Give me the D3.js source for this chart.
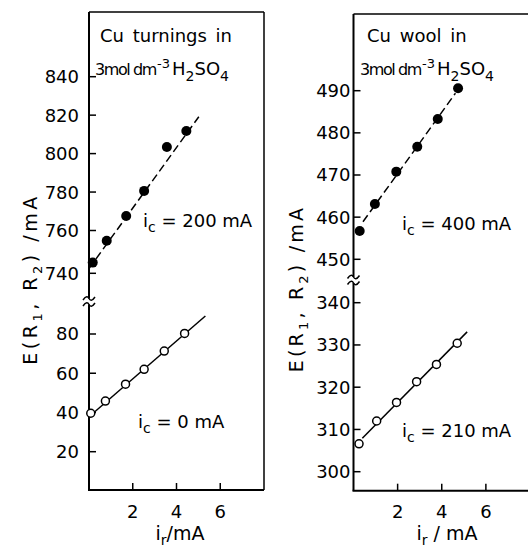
<!DOCTYPE html>
<html>
<head>
<meta charset="utf-8">
<script src="https://cdn.jsdelivr.net/npm/d3@7"></script>
<style>
  body { margin: 0; background: #fff; }
  svg { display: block; }
  text { font-family: "DejaVu Sans", sans-serif; fill: #000; }
</style>
</head>
<body>
<svg id="chart" width="528" height="549"></svg>
<script>
// ---------- data ----------
const xTicks = [2, 4, 6];

// Left panel: Cu turnings
const leftHiTicks = [740, 760, 780, 800, 820, 840];
const leftLoTicks = [20, 40, 60, 80];
const leftHiX = [0.17, 0.81, 1.70, 2.52, 3.56, 4.45];
const leftHiY = [745.0, 755.2, 767.5, 780.6, 803.4, 811.8];
const leftLoX = [0.08, 0.75, 1.67, 2.52, 3.44, 4.37];
const leftLoY = [39.6, 45.8, 54.4, 62.0, 71.3, 80.3];
const leftHiFitX = [0, 5.02];
const leftHiFitY = [742.2, 819.2];
const leftLoFitX = [0, 5.32];
const leftLoFitY = [37.8, 89.2];

// Right panel: Cu wool
const rightHiTicks = [450, 460, 470, 480, 490];
const rightLoTicks = [300, 310, 320, 330, 340];
const rightHiX = [0.28, 0.97, 1.94, 2.89, 3.82, 4.74];
const rightHiY = [456.7, 463.1, 470.8, 476.7, 483.3, 490.6];
const rightLoX = [0.25, 1.05, 1.95, 2.86, 3.76, 4.70];
const rightLoY = [306.6, 312.0, 316.4, 321.3, 325.4, 330.4];
const rightHiFitX = [0.43, 4.62];
const rightHiFitY = [458.9, 489.4];
const rightLoFitX = [0.40, 5.15];
const rightLoFitY = [307.9, 333.1];

// ---------- drawing ----------
const svg = d3.select("#chart");

function drawPanel(cfg) {
  const g = svg.append("g");
  const x = cfg.x, yHi = cfg.yHi, yLo = cfg.yLo;
  const x0 = x(0);

  // frame: top border, right border, bottom axis
  g.append("line").attr("x1", x0).attr("x2", cfg.rightEdge)
    .attr("y1", cfg.top).attr("y2", cfg.top)
    .attr("stroke", "#000").attr("stroke-width", 1.5);
  if (cfg.drawRight) {
    g.append("line").attr("x1", cfg.rightEdge).attr("x2", cfg.rightEdge)
      .attr("y1", cfg.top).attr("y2", cfg.bottom)
      .attr("stroke", "#000").attr("stroke-width", 1.5);
  }
  g.append("line").attr("x1", x0 - 1).attr("x2", cfg.rightEdge)
    .attr("y1", cfg.bottom).attr("y2", cfg.bottom)
    .attr("stroke", "#000").attr("stroke-width", 2);

  // y axis line with break
  g.append("line").attr("x1", x0).attr("x2", x0)
    .attr("y1", cfg.top).attr("y2", cfg.breakY - 3)
    .attr("stroke", "#000").attr("stroke-width", 2);
  g.append("line").attr("x1", x0).attr("x2", x0)
    .attr("y1", cfg.breakY + 3).attr("y2", cfg.bottom)
    .attr("stroke", "#000").attr("stroke-width", 2);
  [-3, 3].forEach(dy => {
    const yy = cfg.breakY + dy;
    g.append("path")
      .attr("d", `M${x0 - 6},${yy + 1.5} C${x0 - 3},${yy - 3} ${x0 - 1},${yy - 2} ${x0},${yy} S${x0 + 3},${yy + 3} ${x0 + 6},${yy - 1.5}`)
      .attr("fill", "none").attr("stroke", "#000").attr("stroke-width", 1.5);
  });

  // y ticks (inward) and labels
  const yt = (scale, ticks) => {
    ticks.forEach(t => {
      g.append("line").attr("x1", x0).attr("x2", x0 + 7)
        .attr("y1", scale(t)).attr("y2", scale(t))
        .attr("stroke", "#000").attr("stroke-width", 1.5);
      g.append("text").attr("x", x0 - cfg.labelGap).attr("y", scale(t))
        .attr("dy", "0.36em").attr("text-anchor", "end")
        .attr("font-size", 18).text(t);
    });
  };
  yt(yHi, cfg.hiTicks);
  yt(yLo, cfg.loTicks);

  // x ticks (inward) and labels
  xTicks.forEach(t => {
    g.append("line").attr("x1", x(t)).attr("x2", x(t))
      .attr("y1", cfg.bottom).attr("y2", cfg.bottom - 7)
      .attr("stroke", "#000").attr("stroke-width", 1.5);
    g.append("text").attr("x", x(t)).attr("y", 518)
      .attr("text-anchor", "middle").attr("font-size", 18).text(t);
  });

  // x axis title
  const xt = g.append("text").attr("x", cfg.xTitleX).attr("y", 540)
    .attr("text-anchor", "middle").attr("font-size", 19);
  xt.append("tspan").text("i");
  xt.append("tspan").attr("font-size", 14).attr("dy", 5).text("r");
  xt.append("tspan").attr("dy", -5).text(cfg.xTitleRest);

  // y axis title
  const ytl = g.append("text")
    .attr("transform", `translate(${cfg.yTitleX},${cfg.yTitleY}) rotate(-90)`)
    .attr("text-anchor", "middle").attr("font-size", 19)
    .attr("letter-spacing", cfg.yTitleSpacing);
  ytl.append("tspan").text("E(R");
  ytl.append("tspan").attr("font-size", 13).attr("dy", 5).text("1");
  ytl.append("tspan").attr("dy", -5).text(", R");
  ytl.append("tspan").attr("font-size", 13).attr("dy", 5).text("2");
  ytl.append("tspan").attr("dy", -5).text(") /mA");

  // fitted lines
  const line = scale => d3.line().x(d => x(d[0])).y(d => scale(d[1]));
  g.append("path")
    .attr("d", line(yHi)(d3.zip(cfg.hiFitX, cfg.hiFitY)))
    .attr("fill", "none").attr("stroke", "#000").attr("stroke-width", 1.5)
    .attr("stroke-dasharray", cfg.dash);
  g.append("path")
    .attr("d", line(yLo)(d3.zip(cfg.loFitX, cfg.loFitY)))
    .attr("fill", "none").attr("stroke", "#000").attr("stroke-width", 1.5);

  // points
  g.selectAll(null).data(d3.zip(cfg.hiX, cfg.hiY)).join("circle")
    .attr("cx", d => x(d[0])).attr("cy", d => yHi(d[1])).attr("r", 5)
    .attr("fill", "#000");
  g.selectAll(null).data(d3.zip(cfg.loX, cfg.loY)).join("circle")
    .attr("cx", d => x(d[0])).attr("cy", d => yLo(d[1])).attr("r", 4)
    .attr("fill", "#fff").attr("stroke", "#000").attr("stroke-width", 1.5);

  // panel title
  g.append("text").attr("x", cfg.titleX).attr("y", 42)
    .attr("font-size", 18).attr("word-spacing", 3).text(cfg.title);
  const sub = g.append("text").attr("x", cfg.titleX2).attr("y", 75)
    .attr("font-size", 18);
  sub.append("tspan").attr("font-size", 16).attr("letter-spacing", -1.4).text("3mol dm");
  sub.append("tspan").attr("font-size", 13).attr("dy", -7).attr("dx", 1).text("-3");
  sub.append("tspan").attr("dy", 7).attr("dx", 2).text("H");
  sub.append("tspan").attr("font-size", 14).attr("dy", 6).text("2");
  sub.append("tspan").attr("dy", -6).text("SO");
  sub.append("tspan").attr("font-size", 14).attr("dy", 6).text("4");

  // annotations
  cfg.notes.forEach(n => {
    const t = g.append("text").attr("x", n.x).attr("y", n.y).attr("font-size", 18);
    t.append("tspan").text("i");
    t.append("tspan").attr("font-size", 14).attr("dy", 5).text("c");
    t.append("tspan").attr("dy", -5).text(n.text);
  });
}

drawPanel({
  x: d3.scaleLinear().domain([0, 8]).range([89, 264]),
  yHi: d3.scaleLinear().domain([740, 760, 840]).range([273.3, 230.5, 76.7]),
  yLo: d3.scaleLinear().domain([20, 80]).range([451.7, 334]),
  hiTicks: leftHiTicks, loTicks: leftLoTicks,
  hiX: leftHiX, hiY: leftHiY, loX: leftLoX, loY: leftLoY,
  hiFitX: leftHiFitX, hiFitY: leftHiFitY, loFitX: leftLoFitX, loFitY: leftLoFitY,
  top: 12, bottom: 490, rightEdge: 264, drawRight: true, breakY: 301.5,
  labelGap: 10, dash: "8,4",
  xTitleX: 180, xTitleRest: "/mA",
  yTitleX: 37, yTitleY: 279, yTitleSpacing: 3.5,
  title: "Cu turnings in", titleX: 100, titleX2: 95,
  notes: [{x: 143, y: 227, text: " = 200  mA"}, {x: 138, y: 428, text: " = 0  mA"}]
});

drawPanel({
  x: d3.scaleLinear().domain([0, 8]).range([353.5, 530]),
  yHi: d3.scaleLinear().domain([450, 490]).range([259.3, 90.7]),
  yLo: d3.scaleLinear().domain([300, 340]).range([471.7, 302.7]),
  hiTicks: rightHiTicks, loTicks: rightLoTicks,
  hiX: rightHiX, hiY: rightHiY, loX: rightLoX, loY: rightLoY,
  hiFitX: rightHiFitX, hiFitY: rightHiFitY, loFitX: rightLoFitX, loFitY: rightLoFitY,
  top: 14, bottom: 490.7, rightEdge: 528, drawRight: false, breakY: 280,
  labelGap: 3, dash: "8,4",
  xTitleX: 447, xTitleRest: " / mA",
  yTitleX: 303, yTitleY: 288.5, yTitleSpacing: 3.2,
  title: "Cu wool in", titleX: 367, titleX2: 360,
  notes: [{x: 402, y: 230, text: " = 400  mA"}, {x: 402, y: 437, text: " = 210  mA"}]
});
</script>
</body>
</html>
